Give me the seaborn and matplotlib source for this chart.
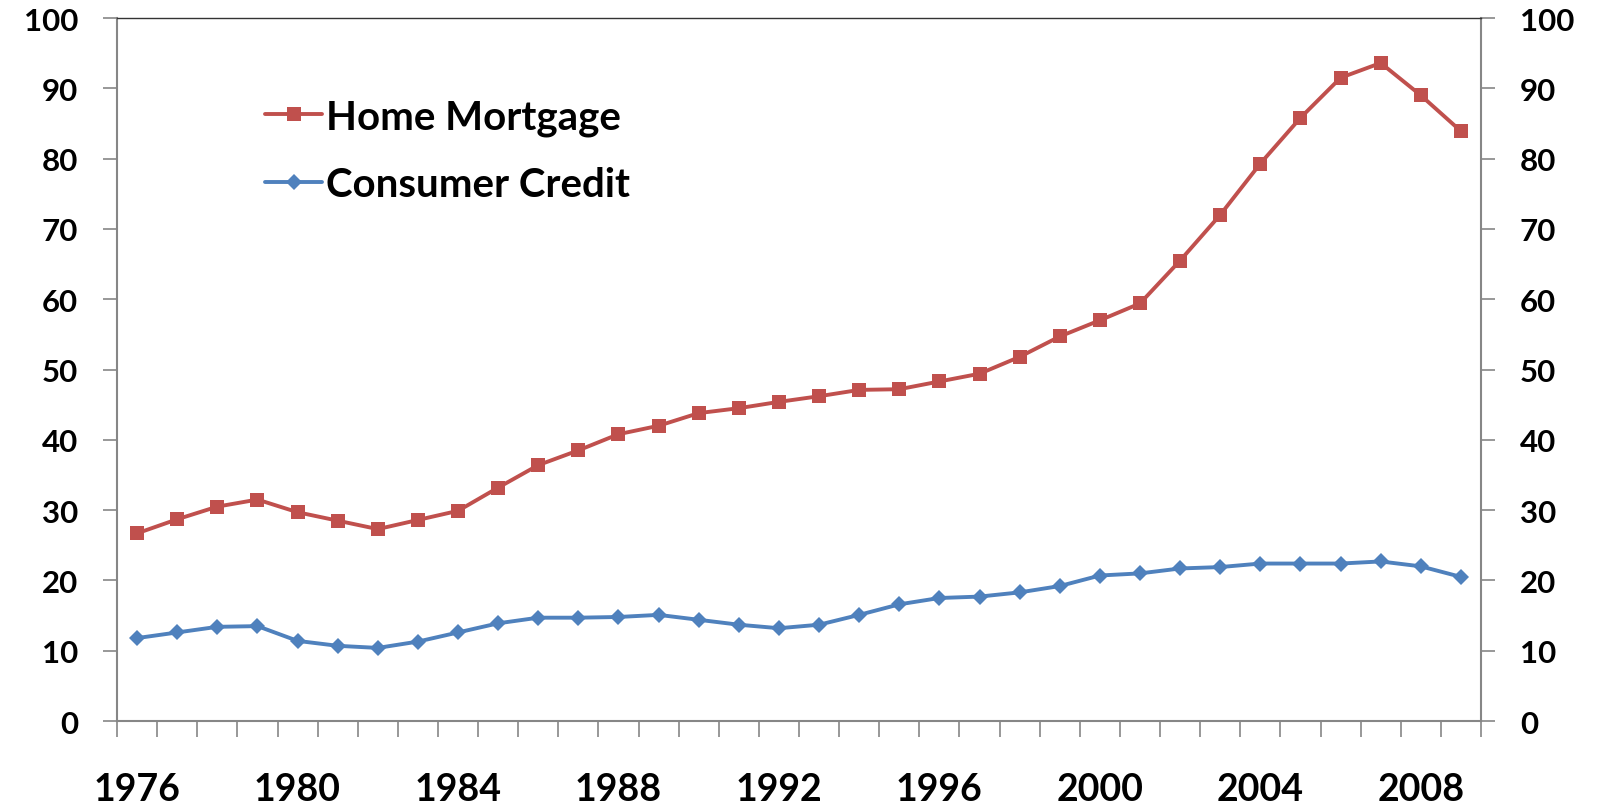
import numpy as np
import pandas as pd
import seaborn as sns
import matplotlib.pyplot as plt
from matplotlib.ticker import FixedLocator

# Datos (1976-2009)
years = list(range(1976, 2010))
home_mortgage = [26.7, 28.7, 30.5, 31.5, 29.7, 28.5, 27.3, 28.6, 29.9, 33.2,
                 36.4, 38.5, 40.8, 42.0, 43.8, 44.5, 45.4, 46.2, 47.1, 47.2,
                 48.3, 49.4, 51.8, 54.7, 57.0, 59.4, 65.5, 72.0, 79.3, 85.8,
                 91.5, 93.6, 89.0, 83.9]
consumer_credit = [11.8, 12.6, 13.4, 13.5, 11.4, 10.7, 10.4, 11.3, 12.6, 13.9,
                   14.7, 14.7, 14.8, 15.1, 14.4, 13.7, 13.2, 13.7, 15.1, 16.6,
                   17.5, 17.7, 18.3, 19.2, 20.7, 21.0, 21.7, 21.9, 22.4, 22.4,
                   22.4, 22.7, 22.0, 20.5]
year_labels = [1976, 1980, 1984, 1988, 1992, 1996, 2000, 2004, 2008]
y_ticks = list(range(0, 101, 10))

RED = '#C0504D'
BLUE = '#4F81BD'
GRAY = '#868686'

sns.set_theme(style='white')
plt.rcParams['font.family'] = ['Lato', 'DejaVu Sans']
plt.rcParams['text.color'] = 'black'

df = pd.DataFrame({'year': years, 'Home Mortgage': home_mortgage,
                   'Consumer Credit': consumer_credit})

fig, ax = plt.subplots(figsize=(15.99, 8.12), dpi=100)
fig.subplots_adjust(left=0.0732, right=0.9262, bottom=0.1108, top=0.9766)

sns.lineplot(data=df, x='year', y='Home Mortgage', ax=ax, color=RED,
             marker='s', markersize=10.3, markeredgewidth=0, linewidth=2.8,
             label='Home Mortgage')
sns.lineplot(data=df, x='year', y='Consumer Credit', ax=ax, color=BLUE,
             marker='D', markersize=8, markeredgewidth=0, linewidth=2.8,
             label='Consumer Credit')

ax.set_xlim(1975.5, 2009.5)
ax.set_ylim(0, 100)
ax.set_xlabel('')
ax.set_ylabel('')

# Eje x tipo categoría: etiquetas cada 4 años, marcas entre años
ax.xaxis.set_major_locator(FixedLocator(year_labels))
ax.xaxis.set_minor_locator(FixedLocator(np.arange(1975.5, 2010, 1)))
ax.set_xticklabels([str(y) for y in year_labels], fontsize=27,
                   fontweight='bold', color='black')
ax.tick_params(axis='x', which='major', length=0, pad=37)
ax.tick_params(axis='x', which='minor', direction='out', length=11.5,
               width=1.2, color=GRAY, bottom=True)

ax.set_yticks(y_ticks)
ax.set_yticklabels([str(v) for v in y_ticks], fontsize=22.5, fontweight='bold',
                   color='black')
ax.tick_params(axis='y', which='major', direction='out', length=10, width=1.2,
               color=GRAY, left=True, right=True, labelleft=True,
               labelright=True, labelcolor='black', pad=18)

for side in ['left', 'right', 'bottom']:
    ax.spines[side].set_color(GRAY)
    ax.spines[side].set_linewidth(1.5)
ax.spines['top'].set_color('#333333')
ax.spines['top'].set_linewidth(1.0)

leg = ax.legend(loc='upper left', bbox_to_anchor=(0.097, 0.909), frameon=False,
                prop={'size': 29, 'weight': 'bold'}, handlelength=1.4,
                handletextpad=0.1, labelspacing=0.75, borderaxespad=0)
for t in leg.get_texts():
    t.set_color('black')

plt.savefig('out.png', dpi=100)
